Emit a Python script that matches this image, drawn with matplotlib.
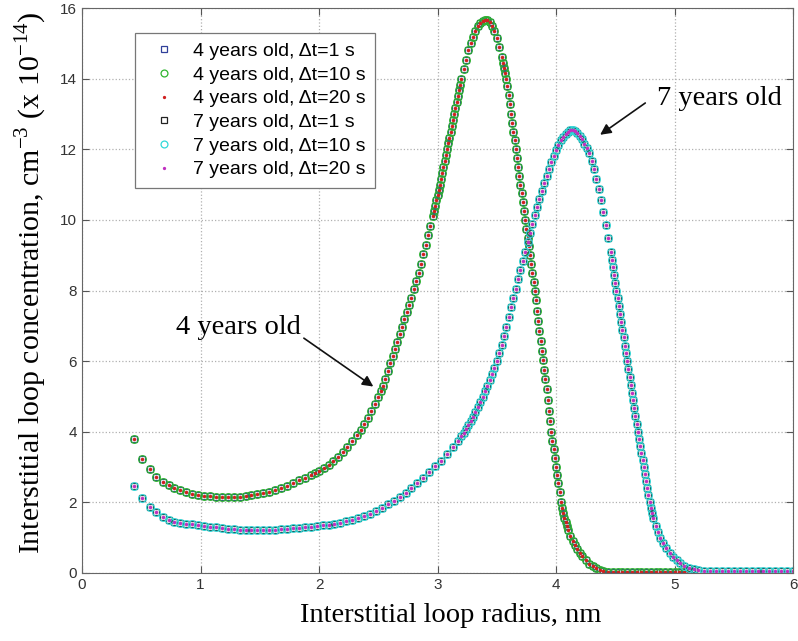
#!/usr/bin/env python3
# Interstitial loop size distribution, 4 and 7 years old

import numpy as np
import matplotlib
matplotlib.use('Agg')
import matplotlib.pyplot as plt

# DATOS: 4 years old (radius nm, concentration x1e14 cm^-3)
radio_4 = [0.44, 0.51, 0.57, 0.62, 0.68, 0.73, 0.78, 0.83, 0.88, 0.93,
           0.98, 1.03, 1.08, 1.13, 1.18, 1.23, 1.28, 1.33, 1.38, 1.43,
           1.48, 1.53, 1.58, 1.63, 1.68, 1.73, 1.78, 1.83, 1.88, 1.93,
           1.97, 2.00, 2.04, 2.08, 2.12, 2.16, 2.20, 2.24, 2.28, 2.32,
           2.35, 2.38, 2.41, 2.44, 2.47, 2.50, 2.52, 2.54, 2.56, 2.58,
           2.60, 2.62, 2.64, 2.66, 2.68, 2.70, 2.72, 2.74, 2.76, 2.78,
           2.80, 2.82, 2.84, 2.86, 2.88, 2.90, 2.92, 2.94, 2.96, 2.97,
           2.98, 2.99, 3.00, 3.01, 3.02, 3.03, 3.04, 3.05, 3.06, 3.07,
           3.08, 3.09, 3.10, 3.11, 3.12, 3.13, 3.14, 3.15, 3.16, 3.17,
           3.18, 3.19, 3.20, 3.22, 3.24, 3.26, 3.28, 3.30, 3.32, 3.34,
           3.36, 3.38, 3.40, 3.42, 3.44, 3.46, 3.48, 3.50, 3.52, 3.54,
           3.55, 3.56, 3.57, 3.58, 3.59, 3.60, 3.61, 3.62, 3.63, 3.64,
           3.65, 3.66, 3.67, 3.68, 3.69, 3.70, 3.71, 3.72, 3.73, 3.74,
           3.75, 3.76, 3.77, 3.78, 3.79, 3.80, 3.81, 3.82, 3.83, 3.84,
           3.85, 3.86, 3.87, 3.88, 3.89, 3.90, 3.91, 3.92, 3.93, 3.94,
           3.95, 3.96, 3.97, 3.98, 3.99, 4.00, 4.01, 4.02, 4.03, 4.04,
           4.05, 4.06, 4.07, 4.08, 4.09, 4.10, 4.12, 4.14, 4.16, 4.18,
           4.20, 4.22, 4.25, 4.28, 4.31, 4.34, 4.37, 4.40, 4.44, 4.48,
           4.52, 4.56, 4.60, 4.64, 4.68, 4.72, 4.76, 4.80, 4.84, 4.88,
           4.92, 4.96, 5.00, 5.04, 5.08, 5.11]
conc_4 = [3.79, 3.24, 2.94, 2.73, 2.59, 2.48, 2.40, 2.34, 2.29, 2.25,
          2.22, 2.19, 2.17, 2.16, 2.15, 2.15, 2.15, 2.16, 2.18, 2.20,
          2.23, 2.26, 2.30, 2.35, 2.41, 2.47, 2.54, 2.62, 2.70, 2.78,
          2.84, 2.90, 2.96, 3.05, 3.16, 3.29, 3.43, 3.58, 3.74, 3.91,
          4.05, 4.22, 4.40, 4.58, 4.78, 4.98, 5.14, 5.30, 5.48, 5.72,
          5.95, 6.15, 6.35, 6.55, 6.77, 6.98, 7.20, 7.40, 7.60, 7.80,
          8.03, 8.26, 8.50, 8.76, 9.03, 9.30, 9.56, 9.83, 10.10, 10.25,
          10.40, 10.55, 10.70, 10.85, 11.00, 11.17, 11.33, 11.50, 11.67, 11.83,
          12.00, 12.17, 12.33, 12.50, 12.67, 12.83, 13.00, 13.17, 13.33, 13.50,
          13.67, 13.83, 14.00, 14.28, 14.54, 14.80, 15.00, 15.18, 15.35, 15.48,
          15.58, 15.64, 15.67, 15.66, 15.60, 15.50, 15.35, 15.15, 14.90, 14.60,
          14.45, 14.30, 14.15, 14.00, 13.78, 13.55, 13.28, 13.00, 12.75, 12.50,
          12.25, 12.00, 11.75, 11.50, 11.25, 11.00, 10.75, 10.50, 10.25, 10.00,
          9.75, 9.50, 9.25, 9.00, 8.75, 8.50, 8.25, 8.00, 7.72, 7.43,
          7.15, 6.86, 6.58, 6.29, 6.02, 5.75, 5.48, 5.20, 4.90, 4.60,
          4.30, 4.00, 3.75, 3.50, 3.25, 3.00, 2.78, 2.55, 2.28, 2.00,
          1.85, 1.70, 1.57, 1.45, 1.33, 1.22, 1.05, 0.91, 0.79, 0.68,
          0.57, 0.48, 0.36, 0.26, 0.19, 0.13, 0.09, 0.06, 0.04, 0.03,
          0.02, 0.02, 0.02, 0.02, 0.02, 0.02, 0.02, 0.02, 0.02, 0.02,
          0.02, 0.02, 0.02, 0.02, 0.02, 0.02]

# DATOS: 7 years old
radio_7 = [0.44, 0.51, 0.57, 0.62, 0.68, 0.73, 0.78, 0.83, 0.88, 0.93,
           0.98, 1.03, 1.08, 1.13, 1.18, 1.23, 1.28, 1.33, 1.38, 1.43,
           1.48, 1.53, 1.58, 1.63, 1.68, 1.73, 1.78, 1.83, 1.88, 1.93,
           1.98, 2.03, 2.08, 2.13, 2.18, 2.23, 2.28, 2.33, 2.38, 2.43,
           2.48, 2.53, 2.58, 2.63, 2.68, 2.73, 2.78, 2.83, 2.88, 2.93,
           2.98, 3.03, 3.08, 3.13, 3.17, 3.20, 3.22, 3.24, 3.26, 3.28,
           3.30, 3.32, 3.34, 3.36, 3.38, 3.40, 3.42, 3.44, 3.46, 3.48,
           3.50, 3.52, 3.54, 3.56, 3.58, 3.60, 3.62, 3.64, 3.66, 3.68,
           3.70, 3.72, 3.74, 3.76, 3.78, 3.80, 3.82, 3.84, 3.86, 3.88,
           3.90, 3.92, 3.94, 3.96, 3.98, 4.00, 4.02, 4.04, 4.06, 4.08,
           4.10, 4.12, 4.14, 4.16, 4.18, 4.20, 4.22, 4.24, 4.26, 4.28,
           4.30, 4.32, 4.34, 4.36, 4.38, 4.40, 4.42, 4.44, 4.46, 4.47,
           4.48, 4.49, 4.50, 4.51, 4.52, 4.53, 4.54, 4.55, 4.56, 4.57,
           4.58, 4.59, 4.60, 4.61, 4.62, 4.63, 4.64, 4.65, 4.66, 4.67,
           4.68, 4.69, 4.70, 4.71, 4.72, 4.73, 4.74, 4.75, 4.76, 4.77,
           4.78, 4.79, 4.80, 4.81, 4.82, 4.84, 4.86, 4.88, 4.90, 4.93,
           4.96, 4.99, 5.02, 5.05, 5.08, 5.12, 5.16, 5.20, 5.25, 5.30,
           5.35, 5.40, 5.45, 5.50, 5.55, 5.60, 5.65, 5.70, 5.75, 5.80,
           5.85, 5.90, 5.95, 6.00]
conc_7 = [2.46, 2.11, 1.88, 1.72, 1.58, 1.50, 1.45, 1.42, 1.40, 1.38,
          1.36, 1.34, 1.31, 1.29, 1.27, 1.25, 1.24, 1.23, 1.22, 1.22,
          1.22, 1.22, 1.23, 1.23, 1.24, 1.25, 1.27, 1.28, 1.30, 1.31,
          1.33, 1.35, 1.37, 1.39, 1.42, 1.46, 1.50, 1.55, 1.61, 1.68,
          1.76, 1.85, 1.94, 2.04, 2.15, 2.27, 2.40, 2.54, 2.69, 2.85,
          3.02, 3.18, 3.36, 3.56, 3.74, 3.88, 3.97, 4.07, 4.18, 4.30,
          4.42, 4.55, 4.69, 4.83, 4.98, 5.14, 5.30, 5.46, 5.63, 5.81,
          6.00, 6.23, 6.47, 6.72, 6.98, 7.25, 7.52, 7.79, 8.05, 8.32,
          8.58, 8.84, 9.10, 9.36, 9.62, 9.88, 10.13, 10.37, 10.60, 10.82,
          11.04, 11.25, 11.45, 11.64, 11.82, 11.98, 12.12, 12.25, 12.36, 12.44,
          12.50, 12.54, 12.55, 12.52, 12.46, 12.38, 12.28, 12.16, 12.03, 11.88,
          11.68, 11.43, 11.16, 10.87, 10.56, 10.22, 9.86, 9.48, 9.08, 8.87,
          8.66, 8.44, 8.22, 8.00, 7.78, 7.56, 7.33, 7.11, 6.89, 6.67,
          6.44, 6.22, 6.00, 5.78, 5.56, 5.33, 5.11, 4.89, 4.67, 4.44,
          4.22, 4.00, 3.80, 3.60, 3.40, 3.20, 3.00, 2.80, 2.60, 2.40,
          2.20, 2.00, 1.84, 1.70, 1.56, 1.33, 1.15, 0.99, 0.85, 0.70,
          0.56, 0.45, 0.36, 0.28, 0.21, 0.15, 0.11, 0.08, 0.06, 0.05,
          0.05, 0.05, 0.05, 0.05, 0.05, 0.05, 0.05, 0.05, 0.05, 0.05,
          0.05, 0.05, 0.05, 0.05]

etiquetas = ['4 years old, \u0394t=1 s', '4 years old, \u0394t=10 s',
             '4 years old, \u0394t=20 s', '7 years old, \u0394t=1 s',
             '7 years old, \u0394t=10 s', '7 years old, \u0394t=20 s']

fig = plt.figure(figsize=(7.98, 6.41), dpi=100)
ax = fig.add_axes([0.1028, 0.1061, 0.891, 0.8814])

x4, y4 = np.array(radio_4), np.array(conc_4)
x7, y7 = np.array(radio_7), np.array(conc_7)

ax.plot(x4, y4, 's', ms=4.5, mfc='none', mec='#30409a', mew=0.9, label=etiquetas[0])
ax.plot(x4, y4, 'o', ms=5.5, mfc='none', mec='#2fb52f', mew=0.9, label=etiquetas[1])
ax.plot(x4, y4, '.', ms=3, color='#d02020', label=etiquetas[2])
ax.plot(x7, y7, 's', ms=4.5, mfc='none', mec='#222222', mew=0.9, label=etiquetas[3])
ax.plot(x7, y7, 'o', ms=5.5, mfc='none', mec='#30d8d8', mew=0.9, label=etiquetas[4])
ax.plot(x7, y7, '.', ms=3, color='#c030c0', label=etiquetas[5])

ax.set_xlim(0, 6)
ax.set_ylim(0, 16)
ax.set_xticks(range(0, 7))
ax.set_yticks(range(0, 17, 2))
ax.grid(True, linestyle=':', color='#b0b0b0', linewidth=0.9)
ax.tick_params(direction='in', top=True, right=True, colors='#555555',
               labelcolor='#333333', labelsize=11, length=5)
for s in ax.spines.values():
    s.set_color('#666666')
for lab in ax.get_xticklabels() + ax.get_yticklabels():
    lab.set_family('Liberation Sans')

ax.set_xlabel('Interstitial loop radius, nm', family='Liberation Serif',
              fontsize=20.5)
ax.xaxis.set_label_coords(0.519, -0.053)
ax.set_ylabel(r'Interstitial loop concentration, cm$^{\mathregular{-3}}$ (x 10$^{\mathregular{-14}}$)',
              family='Liberation Serif', fontsize=21.5)
ax.yaxis.set_label_coords(-0.047, 0.514)

# flechas y textos
ax.annotate('', xy=(2.458, 5.28), xytext=(1.872, 6.65),
            arrowprops=dict(arrowstyle='-|>', color='#111111', lw=1.2,
                            mutation_scale=16, shrinkA=0, shrinkB=0))
ax.text(1.323, 6.95, '4 years old', family='Liberation Serif', fontsize=20.5,
        ha='center', va='center')
ax.annotate('', xy=(4.372, 12.41), xytext=(4.753, 13.31),
            arrowprops=dict(arrowstyle='-|>', color='#111111', lw=1.2,
                            mutation_scale=16, shrinkA=0, shrinkB=0))
ax.text(5.38, 13.43, '7 years old', family='Liberation Serif', fontsize=20.5,
        ha='center', va='center')

leg = ax.legend(loc='upper left', bbox_to_anchor=(0.0745, 0.956),
                prop={'family': 'Liberation Sans', 'size': 14},
                fancybox=False, framealpha=1, edgecolor='#777777',
                handletextpad=0.46, borderpad=0.5, labelspacing=0.31,
                handlelength=2.0, borderaxespad=0, markerscale=0.9)
leg.get_frame().set_linewidth(0.9)

fig.savefig('out.png', dpi=100)
